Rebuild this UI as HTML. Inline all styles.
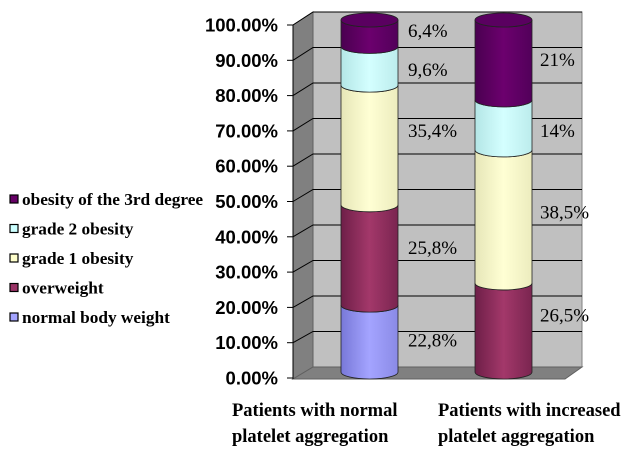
<!DOCTYPE html>
<html><head><meta charset="utf-8"><style>
body{margin:0;background:#fff;width:634px;height:455px;overflow:hidden}
svg{display:block}
.yl{font:bold 18.5px "Liberation Sans",sans-serif;fill:#000}
.lg{font:bold 17.3px "Liberation Serif",serif;fill:#000}
.cat{font:bold 18.5px "Liberation Serif",serif;fill:#000}
.dl{font:19px "Liberation Serif",serif;fill:#000}
</style></head><body>
<svg id="chart" width="634" height="455">
<defs>
<linearGradient id="g0" x1="0" x2="1"><stop offset="0" stop-color="#7878d8"/><stop offset="0.5" stop-color="#a4a4ff"/><stop offset="1" stop-color="#8a8ae6"/></linearGradient>
<linearGradient id="g1" x1="0" x2="1"><stop offset="0" stop-color="#6e1f48"/><stop offset="0.5" stop-color="#a3386a"/><stop offset="1" stop-color="#7a2550"/></linearGradient>
<linearGradient id="g2" x1="0" x2="1"><stop offset="0" stop-color="#e6e6b8"/><stop offset="0.5" stop-color="#ffffd4"/><stop offset="1" stop-color="#ececbe"/></linearGradient>
<linearGradient id="g3" x1="0" x2="1"><stop offset="0" stop-color="#b4e6e6"/><stop offset="0.5" stop-color="#d4ffff"/><stop offset="1" stop-color="#bcecec"/></linearGradient>
<linearGradient id="g4" x1="0" x2="1"><stop offset="0" stop-color="#4a0050"/><stop offset="0.5" stop-color="#6c006e"/><stop offset="1" stop-color="#52005a"/></linearGradient>
</defs>
</svg>
<script>
const categories1 = ["Patients with normal", "Patients with increased"];
const categories2 = ["platelet aggregation", "platelet aggregation"];
const seriesNames = ["normal body weight","overweight","grade 1 obesity","grade 2 obesity","obesity of the 3rd degree"];
const bar1Values = [19, 28.5, 34, 11, 7.5];
const bar2Values = [0, 25.3, 37.8, 14.2, 22.7];
const bar1Labels = ["22,8%","25,8%","35,4%","9,6%","6,4%"];
const bar2Labels = ["","26,5%","38,5%","14%","21%"];
const yTicks = [0,10,20,30,40,50,60,70,80,90,100];
const yTickLabels = ["0.00%","10.00%","20.00%","30.00%","40.00%","50.00%","60.00%","70.00%","80.00%","90.00%","100.00%"];

const svg = document.getElementById('chart');
const NS = 'http://www.w3.org/2000/svg';
function mk(tag, attrs, parent){const e=document.createElementNS(NS,tag);for(const k in attrs)e.setAttribute(k,attrs[k]);(parent||svg).appendChild(e);return e;}
const yFront = v => 378 - v/100*353;
const yBack = v => 367 - v/100*355;
const yBar = v => 372 - v/100*352;
const bar1Nudge = [2,-7,-14,4,-2];
const bar2Nudge = [0,-12,-4,6,0];

let w = mk('polygon',{points:'313,12 582,12 582,367 313,367',fill:'#c0c0c0',stroke:'#808080'});


w = mk('polygon',{points:'293,25 313,12 313,367 293,379',fill:'#808080',stroke:'#606060'});


w = mk('polygon',{points:'293,379 313,367 582,367 565,379',fill:'#808080',stroke:'#606060'});



yTicks.forEach((t,i)=>{
  if(t>0){
    const g = mk('polyline',{points:`293,${yFront(t)} 313,${yBack(t)} 582,${yBack(t)}`,fill:'none',stroke:'#000','stroke-width':1});
    
    
  }
  const tk = mk('line',{x1:287,x2:293,y1:yFront(t),y2:yFront(t),stroke:'#000'});
  
  
  const tl = mk('text',{x:278,y:yFront(t)+6.5,'text-anchor':'end',class:'yl'});
  tl.textContent = yTickLabels[i];
  
  
});
const ax = mk('line',{x1:293,x2:293,y1:25,y2:379,stroke:'#000'});



function drawBar(vals, labels, nudge, x0, lx, idx){
  const wd=57, ry=7, cx=x0+wd/2;
  let cum=0;
  vals.forEach((v,i)=>{
    if(v<=0) return;
    const yb=yBar(cum), yt=yBar(cum+v);
    const p = mk('path',{d:`M${x0},${yt} L${x0},${yb} A${wd/2},${ry} 0 0 0 ${x0+wd},${yb} L${x0+wd},${yt} A${wd/2},${ry} 0 0 1 ${x0},${yt} Z`,fill:`url(#g${i})`,stroke:'#222','stroke-width':0.8});
    
    
    const mid = yBar(cum+v/2);
    if(labels[i]){
      const t = mk('text',{x:lx,y:mid+6+nudge[i],class:'dl'});
      t.textContent = labels[i];
      
      
    }
    cum+=v;
  });
  const top = mk('ellipse',{cx:cx,cy:yBar(cum),rx:wd/2,ry:ry,fill:'#5a0060',stroke:'#222','stroke-width':0.8});
  
  
}
drawBar(bar1Values, bar1Labels, bar1Nudge, 341, 408, 1);
drawBar(bar2Values, bar2Labels, bar2Nudge, 475, 540, 2);

[232, 438].forEach((x,i)=>{
  const a = mk('text',{x:x,y:416,class:'cat'}); a.textContent=categories1[i];
  
  
  const b = mk('text',{x:x,y:442,class:'cat'}); b.textContent=categories2[i];
  
  
});

const legColors = ['#a4a4ff','#993366','#ffffcc','#ccffff','#660066'];
for(let i=4;i>=0;i--){
  const y = 200 + (4-i)*29.5;
  const r = mk('rect',{x:10,y:y-5,width:8,height:8,fill:legColors[i],stroke:'#000','stroke-width':1.2});
  
  
  const t = mk('text',{x:22,y:y+5,class:'lg'}); t.textContent=seriesNames[i];
  
  
}
</script>
</body></html>
